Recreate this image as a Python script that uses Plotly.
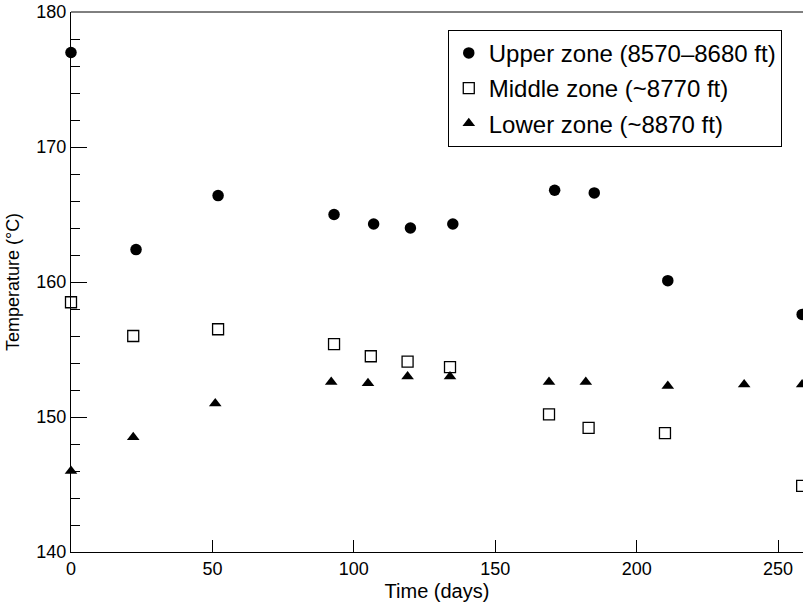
import plotly.graph_objects as go

# Temperature measurements at three well depths over time
upper_days = [0, 23, 52, 93, 107, 120, 135, 171, 185, 211, 258.5]
upper_temp = [177.0, 162.4, 166.4, 165.0, 164.3, 164.0, 164.3, 166.8, 166.6, 160.1, 157.6]

middle_days = [0, 22, 52, 93, 106, 119, 134, 169, 183, 210, 258.5]
middle_temp = [158.5, 156.0, 156.5, 155.4, 154.5, 154.1, 153.7, 150.2, 149.2, 148.8, 144.9]

lower_days = [0, 22, 51, 92, 105, 119, 134, 169, 182, 211, 238, 258.5]
lower_temp = [146.0, 148.5, 151.0, 152.6, 152.5, 153.0, 153.0, 152.6, 152.6, 152.3, 152.4, 152.4]

names = ["Upper zone (8570\u20138680 ft)", "Middle zone (~8770 ft)", "Lower zone (~8870 ft)"]

FONT = "Liberation Sans, Arial, sans-serif"

fig = go.Figure()
fig.add_trace(go.Scatter(
    x=upper_days, y=upper_temp, mode="markers", name=names[0], legendgroup="u",
    marker=dict(symbol="circle", size=11.5, color="black"), cliponaxis=False))
fig.add_trace(go.Scatter(
    x=middle_days, y=middle_temp, mode="markers", name=names[1], legendgroup="m",
    marker=dict(symbol="square-open", size=11, color="black", line=dict(width=1.3)),
    cliponaxis=False))
fig.add_trace(go.Scatter(
    x=lower_days, y=lower_temp, mode="markers", name=names[2], legendgroup="l",
    marker=dict(symbol="triangle-up", size=11, color="black"), cliponaxis=False))

fig.update_layout(
    width=803, height=610,
    margin=dict(l=71, r=0, t=12, b=58),
    paper_bgcolor="white", plot_bgcolor="white",
    font=dict(family=FONT, size=18, color="black"),
    showlegend=True,
    legend=dict(
        x=0.971, xanchor="right", y=0.967, yanchor="top",
        bgcolor="white", bordercolor="black", borderwidth=1,
        font=dict(family=FONT, size=24, color="black"),
        tracegroupgap=1,
    ),
    shapes=[dict(type="line", xref="paper", yref="paper", x0=0, x1=1, y0=1, y1=1,
                 line=dict(color="black", width=1))],
)

fig.update_xaxes(
    range=[0, 258.8], dtick=50, tick0=0,
    showgrid=False, zeroline=False,
    showline=True, linecolor="black", linewidth=1,
    ticks="inside", ticklen=12, tickcolor="black", tickwidth=1,
    tickfont=dict(size=18),
    title=dict(text="Time (days)", font=dict(size=20), standoff=6),
    automargin=False,
)
fig.update_yaxes(
    range=[140, 180], dtick=10, tick0=140,
    showgrid=False, zeroline=False,
    showline=True, linecolor="black", linewidth=1,
    ticks="inside", ticklen=16, tickcolor="black", tickwidth=1,
    minor=dict(ticks="inside", ticklen=9, dtick=2, tickcolor="black", tickwidth=1, showgrid=False),
    tickfont=dict(size=18),
    title=dict(text="Temperature (\u00b0C)", font=dict(size=18), standoff=12),
    automargin=False,
)

fig.write_html("out.html")
